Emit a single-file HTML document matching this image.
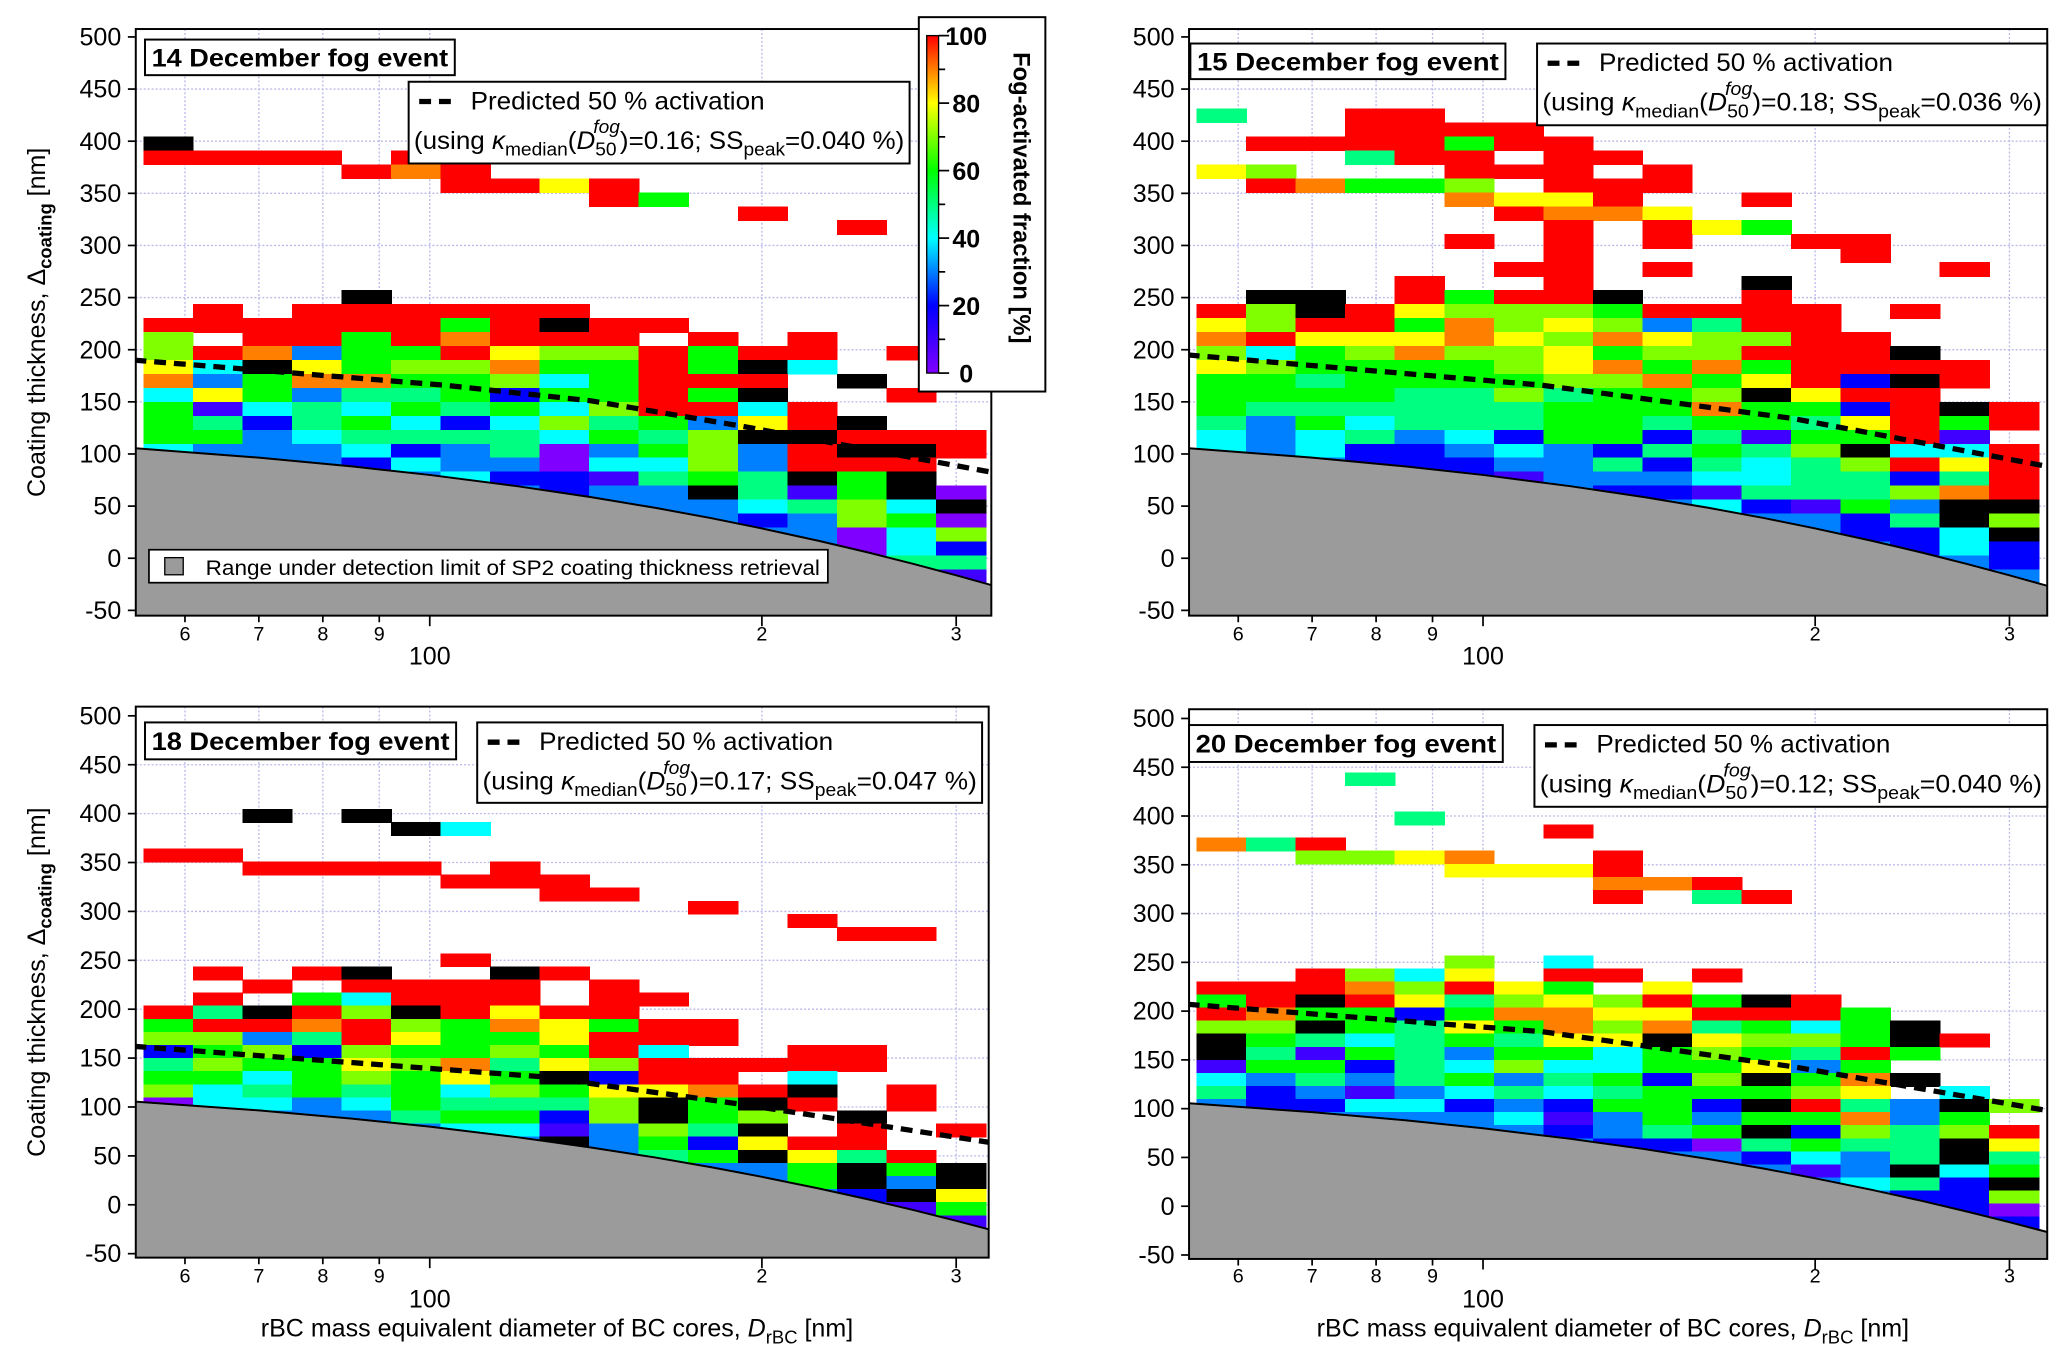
<!DOCTYPE html>
<html><head><meta charset="utf-8">
<style>
html,body{margin:0;padding:0;background:#fff;}
svg{display:block;font-family:"Liberation Sans",Arial,sans-serif;}
</style></head>
<body>
<svg id="fig" xmlns="http://www.w3.org/2000/svg" width="2067" height="1361" viewBox="0 0 1568 1032.4">
<defs>
<linearGradient id="cbgrad" x1="0" y1="1" x2="0" y2="0">
<stop offset="0" stop-color="#8000ff"/><stop offset="0.2" stop-color="#0000ff"/><stop offset="0.4" stop-color="#00ffff"/>
<stop offset="0.6" stop-color="#00ff00"/><stop offset="0.8" stop-color="#ffff00"/><stop offset="1" stop-color="#ff0000"/>
</linearGradient>
</defs>
</svg>
<script>
// ---------- DATA ----------
// activated fraction grids: rows from k=21 (top) down to k=-13; 17 size bins each.
// '.' = no data, 'k' = black (undefined), '0'..'9' = 0..90 %, 'A' = 100 %
const dec14Grid = [
".................",".................",".................","k................",
"AAAA.A...........","....A9A..........","......AA8A.......",".........A6......",
"............A....","..............A..",".................",".................",
".................",".................","....k............",".A.AAAAAA........",
"AAAAAA6AkAA......","7.AA6A9AAA.A.A...","7A9366A877A6AA.A.","84k8677966A6k4...",
"9369966746AAA.k..","4863556266A6k..A.","6145465647AA4A...","6525642475638Ak..",
"663455554657kkAAA","4333423503673AkkA","3333243304473AAA.","3333334221565k6k.",
"33333333233k516k0","3333333333334574k","33333333333323760","33333333333333047",
"33333333333333042","33333333333333355","33333333333333331"];
const dec15Grid = [
".................","5..AA............","...AAAA..........",".AAAA6AA.........",
"...5AA.AA........","87...AAA.A.......",".A9667.AAA.......",".....988A..A.....",
"......A998.......",".......A.A86.....",".....A.A.A..AA...",".......A.....A...",
"......AA.A.....A.","....A..A...k.....",".kk.A6AAk..A.....","A7kA87776AAAA.A..",
"87AA6978735AA....","9A8889879877AA...","74679778677AAAk..","876666789696AAAA.",
"665666677968A2kA.","66665575667k8AA..","65555556669662AkA","53645556656658A6A",
"43453426625166A1.","4342234325657k44A","33322233525457A8A","3333321333445525A",
"3333333322155579A","333333333342163kk","333333333333325k7","3333333333333224k",
"33333333333333242","33333333333333332","33333333333333333"];
const dec18Grid = [
".................",".................",".................","..k.k............",
".....k4..........",".................","AA...............","..AAAA.A.........",
"......AAA........","........AA.......","...........A.....",".............A...",
"..............AA.",".................","......A..........",".A.Ak..kA........",
"..A.AAAA.A.......",".A.64AAA.AA......","A5kA7kA8AA.......","6AA9A76986AA.....",
"7735A8668AAA.....","267276676A4..AA..","5766879587AAAAA..","66467686k2AA.4...",
"745656476889Ak.A.","0443465557k6kA.A.","3333356627k67.k..","333333441375k.A.A",
"33333333k3628AA..","333333333356k85A.","33333333333336k6k","33333333333336k3k",
"333333333333332k8","33333333333333316","33333333333333331"];
const dec20Grid = [
"...5.............",".................",".................","....5............",
".......A.........","95A..............","..7789..A........",".....888A........",
"........99A......","........A.5A.....",".................",".................",
".................",".................",".....7.4.........","..A748.AA.A......",
"AAA97A86.8.......","6AkA85787A6kA....","A966269988AAA6...","77k65869795646k..",
"k65456588k8776kA.","k516536646765A6..","16625474466836...","43535635627k69k..",
"52313454566678.4.","32244232662kA53k7","3333334136366936.","33333332356k2757A",
"333333332205655k8","333333333332435k5","33333333333313k46","3333333333333452k",
"33333333333333227","33333333333333320","33333333333333332"];

// detection limit curve (same for all events)
const limitD = [54, 70, 85, 100, 120, 140, 160, 180, 200, 225, 250, 275, 300, 325];
const limitT = [105.6, 96.5, 88.1, 79.9, 69.1, 58.6, 48.4, 38.4, 28.6, 16.8, 5.4, -5.7, -16.4, -26.6];

// predicted 50 % activation lines
const dec14PredD = [54, 103, 140, 191, 325];
const dec14PredT = [190, 166, 151, 127, 82];
const dec15PredD = [54, 113, 191, 325];
const dec15PredT = [195, 166, 134, 88];
const dec18PredD = [54, 126, 191, 325];
const dec18PredT = [162, 131, 103, 63];
const dec20PredD = [54, 113, 191, 325];
const dec20PredT = [207, 179, 143, 98];

const kappaVals = ["0.16", "0.18", "0.17", "0.12"];
const ssVals = ["0.040", "0.036", "0.047", "0.040"];
const eventNames = ["14 December fog event", "15 December fog event", "18 December fog event", "20 December fog event"];

const yTicks = [500, 450, 400, 350, 300, 250, 200, 150, 100, 50, 0, -50];
const xMinorTicks = [60, 70, 80, 90];
const xMinorLabels = ["6", "7", "8", "9"];
const xMajorTicks = [100, 200, 300];
const xMajorLabels = ["100", "2", "3"];
const xAllGrid = [60, 70, 80, 90, 100, 200, 300];
const cbTicks = [0, 20, 40, 60, 80, 100];

// bin definitions
const binD0 = 55, binLogStep = 0.0449, nBins = 17;
const rowBase = 150, rowH = 13.4, kTop = 21;

// ---------- LAYOUT ----------
const NS = "http://www.w3.org/2000/svg";
const svg = document.getElementById("fig");
const DEC = 837;
const panels = [
 {key:"dec14", grid:dec14Grid, pd:dec14PredD, pt:dec14PredT, x0:103, x1:752, x100:326, y500:28, yM:463, top:22, bot:467, tb:[110,30,235,27], lb:[310,62,380,62], lab1:481, lab2:497, ytitle:true, xtitle:false, gray:true},
 {key:"dec15", grid:dec15Grid, pd:dec15PredD, pt:dec15PredT, x0:902, x1:1553, x100:1125, y500:28, yM:463, top:22, bot:467, tb:[903,33,239,27], lb:[1166,33,387,62], lab1:481, lab2:497, ytitle:false, xtitle:false, gray:false},
 {key:"dec18", grid:dec18Grid, pd:dec18PredD, pt:dec18PredT, x0:103, x1:750, x100:326, y500:543, yM:951, top:536, bot:954, tb:[110,548,236,28], lb:[362,548,383,61], lab1:968, lab2:985, ytitle:true, xtitle:true, gray:false},
 {key:"dec20", grid:dec20Grid, pd:dec20PredD, pt:dec20PredT, x0:902, x1:1553, x100:1125, y500:545, yM:952, top:538, bot:955, tb:[902,550,238,28], lb:[1164,550,389,62], lab1:968, lab2:985, ytitle:false, xtitle:true, gray:false}
];

function el(tag, attrs, parent){
  const e = document.createElementNS(NS, tag);
  for (const a in attrs) e.setAttribute(a, attrs[a]);
  (parent||svg).appendChild(e);
  return e;
}
function colorOf(ch){
  if (ch === 'k') return '#000000';
  const v = ch === 'A' ? 100 : parseInt(ch,10)*10;
  const stops = [[0,128,0,255],[20,0,0,255],[40,0,255,255],[60,0,255,0],[80,255,255,0],[100,255,0,0]];
  for (let i=0;i<stops.length-1;i++){
    const a=stops[i], b=stops[i+1];
    if (v>=a[0] && v<=b[0]){
      const t=(v-a[0])/(b[0]-a[0]);
      const c=[1,2,3].map(j=>Math.round(a[j]+(b[j]-a[j])*t));
      return 'rgb('+c.join(',')+')';
    }
  }
  return '#ff0000';
}

panels.forEach((p, pi) => {
  const X = d => p.x100 + DEC*Math.log10(d/100);
  const Y = v => p.y500 + (500 - v)*(p.yM - p.y500)/550;
  const g = el("g", {});
  
  

  const clipId = "clip" + pi;
  const cp = el("clipPath", {id: clipId}, g);
  el("rect", {x:p.x0, y:p.top, width:p.x1-p.x0, height:p.bot-p.top}, cp);

  const grid = el("g", {stroke:"#b9b9ea", "stroke-width":1, "stroke-dasharray":"1.5,1.5"}, g);
  
  
  yTicks.forEach(v => { if (v>-50 && v<500) el("line", {x1:p.x0, x2:p.x1, y1:Y(v), y2:Y(v)}, grid); });
  xAllGrid.forEach(d => el("line", {x1:X(d), x2:X(d), y1:p.top, y2:p.bot}, grid));

  const cells = el("g", {"clip-path":"url(#"+clipId+")", "shape-rendering":"crispEdges"}, g);
  
  
  p.grid.forEach((row, ri) => {
    const k = kTop - ri;
    const lo = rowBase + rowH*k, hi = lo + rowH;
    for (let c=0;c<nBins;c++){
      const ch = row[c];
      if (!ch || ch === '.') continue;
      const dl = binD0*Math.pow(10, binLogStep*c), dr = binD0*Math.pow(10, binLogStep*(c+1));
      const r = el("rect", {x:X(dl), y:Y(hi), width:X(dr)-X(dl)+0.6, height:Y(lo)-Y(hi)+0.6, fill:colorOf(ch)}, cells);
      
      
    }
  });

  let pts = limitD.map((d,i)=>X(d)+","+Y(limitT[i]));
  const poly = el("polygon", {points: pts.join(" ")+" "+X(limitD[limitD.length-1])+","+(p.bot+5)+" "+X(limitD[0])+","+(p.bot+5), fill:"#9b9b9b", "clip-path":"url(#"+clipId+")"}, g);
  
  
  const lim = el("polyline", {points: pts.join(" "), fill:"none", stroke:"#000", "stroke-width":1.5, "clip-path":"url(#"+clipId+")"}, g);
  
  

  const pl = el("polyline", {points: p.pd.map((d,i)=>X(d)+","+Y(p.pt[i])).join(" "), fill:"none", stroke:"#000", "stroke-width":4, "stroke-dasharray":"9,6", "clip-path":"url(#"+clipId+")"}, g);
  
  

  const fr = el("rect", {x:p.x0, y:p.top, width:p.x1-p.x0, height:p.bot-p.top, fill:"none", stroke:"#000", "stroke-width":1.5}, g);
  
  

  const ya = el("g", {}, g);
  
  
  yTicks.forEach(v => {
    el("line", {x1:p.x0-6, x2:p.x0, y1:Y(v), y2:Y(v), stroke:"#000", "stroke-width":1.3}, ya);
    const t = el("text", {x:p.x0-11, y:Y(v)+6.5, "text-anchor":"end", "font-size":19}, ya);
    t.textContent = v;
  });
  const xa = el("g", {}, g);
  
  
  xMinorTicks.forEach((d,i) => {
    el("line", {x1:X(d), x2:X(d), y1:p.bot, y2:p.bot+5, stroke:"#000", "stroke-width":1.3}, xa);
    const t = el("text", {x:X(d), y:p.lab1+5, "text-anchor":"middle", "font-size":15}, xa);
    t.textContent = xMinorLabels[i];
  });
  xMajorTicks.forEach((d,i) => {
    el("line", {x1:X(d), x2:X(d), y1:p.bot, y2:p.bot+8, stroke:"#000", "stroke-width":1.3}, xa);
    const t = el("text", {x:X(d), y:(i===0?p.lab2+7:p.lab1+5), "text-anchor":"middle", "font-size":(i===0?19:15)}, xa);
    t.textContent = xMajorLabels[i];
  });

  const tbx = el("g", {}, g);
  
  
  el("rect", {x:p.tb[0], y:p.tb[1], width:p.tb[2], height:p.tb[3], fill:"#fff", stroke:"#000", "stroke-width":1.5}, tbx);
  const tt = el("text", {x:p.tb[0]+5, y:p.tb[1]+p.tb[3]/2+7, "font-size":19, "font-weight":"bold", textLength:p.tb[2]-10, lengthAdjust:"spacingAndGlyphs"}, tbx);
  tt.textContent = eventNames[pi];

  const lg = el("g", {}, g);
  
  
  const [lx, ly, lw, lh] = p.lb;
  el("rect", {x:lx, y:ly, width:lw, height:lh, fill:"#fff", stroke:"#000", "stroke-width":1.5}, lg);
  el("line", {x1:lx+8, x2:lx+36, y1:ly+15, y2:ly+15, stroke:"#000", "stroke-width":4, "stroke-dasharray":"9,6"}, lg);
  const l1 = el("text", {x:lx+47, y:ly+21, "font-size":19, textLength:223, lengthAdjust:"spacingAndGlyphs"}, lg);
  l1.textContent = "Predicted 50 % activation";
  const l2 = el("text", {x:lx+4, y:ly+51, "font-size":19, textLength:lw-8, lengthAdjust:"spacingAndGlyphs"}, lg);
  l2.innerHTML = '(using <tspan font-style="italic">κ</tspan><tspan font-size="14" dy="5">median</tspan><tspan dy="-5">(</tspan><tspan font-style="italic">D</tspan><tspan font-size="14" dy="5">50</tspan><tspan font-size="14" font-style="italic" dx="-17" dy="-17">fog</tspan><tspan dy="12">)=' + kappaVals[pi] + '; SS</tspan><tspan font-size="14" dy="5">peak</tspan><tspan dy="-5">=' + ssVals[pi] + ' %)</tspan>';

  if (p.gray){
    const gl = el("g", {}, g);
    
    
    el("rect", {x:113, y:417, width:515, height:25, fill:"#fff", stroke:"#000", "stroke-width":1.3}, gl);
    el("rect", {x:125, y:423, width:14, height:13, fill:"#9b9b9b", stroke:"#000", "stroke-width":1}, gl);
    const gt = el("text", {x:156, y:436, "font-size":16, textLength:466, lengthAdjust:"spacingAndGlyphs"}, gl);
    gt.textContent = "Range under detection limit of SP2 coating thickness retrieval";
  }
  if (p.ytitle){
    const cy = (p.top + p.bot)/2;
    const yt = el("text", {x:0, y:0, "font-size":19, "text-anchor":"middle", transform:"translate(34,"+cy+") rotate(-90)"}, g);
    
    
    yt.innerHTML = 'Coating thickness, Δ<tspan font-size="14" font-weight="bold" dy="5">coating</tspan><tspan dy="-5"> [nm]</tspan>';
  }
  if (p.xtitle){
    const cx = (p.x0 + p.x1)/2;
    const xt = el("text", {x:cx-4, y:1014, "font-size":19, "text-anchor":"middle"}, g);
    
    
    xt.innerHTML = 'rBC mass equivalent diameter of BC cores, <tspan font-style="italic">D</tspan><tspan font-size="14" dy="5">rBC</tspan><tspan dy="-5"> [nm]</tspan>';
  }
});

// ---------- COLOR BAR ----------
const cb = el("g", {});


el("rect", {x:697, y:13, width:96, height:284, fill:"#fff", stroke:"#000", "stroke-width":1.5}, cb);
const cbY = v => 283 - v*(283-27)/100;
el("rect", {x:703, y:cbY(100), width:9, height:cbY(0)-cbY(100), fill:"url(#cbgrad)", stroke:"#000", "stroke-width":1}, cb);
for (let v=0; v<=100; v+=10){
  el("line", {x1:712, x2:(v%20===0?720:717), y1:cbY(v), y2:cbY(v), stroke:"#000", "stroke-width":1.3}, cb);
}
cbTicks.forEach(v => {
  const t = el("text", {x:733, y:cbY(v)+7, "text-anchor":"middle", "font-size":19, "font-weight":"bold"}, cb);
  t.textContent = v;
});
const cbt = el("text", {x:0, y:0, "font-size":18, "font-weight":"bold", "text-anchor":"middle", transform:"translate(769,150) rotate(90)"}, cb);


cbt.textContent = "Fog-activated fraction [%]";
</script>
</body></html>
